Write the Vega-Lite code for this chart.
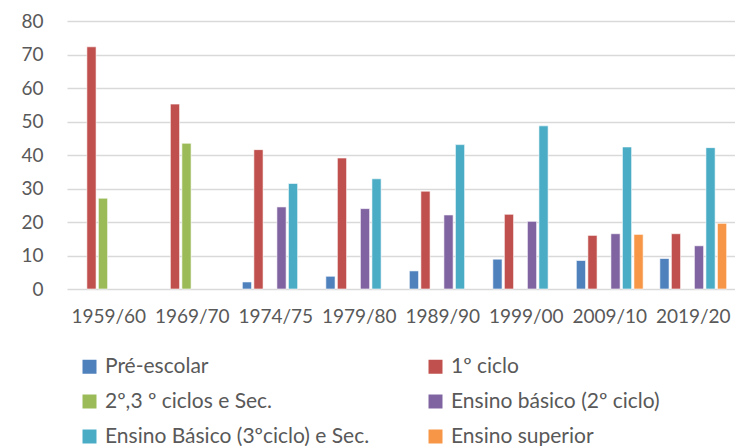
{
  "$schema": "https://vega.github.io/schema/vega-lite/v6.json",
  "width": 668,
  "height": 268,
  "autosize": {"type": "none"},
  "padding": {"left": 67, "top": 21, "right": 0, "bottom": 157},
  "background": "white",
  "data": {
    "values": [
      {"ano": "1959/60", "nivel": "1º ciclo", "valor": 72.3},
      {"ano": "1959/60", "nivel": "2º,3 º ciclos e Sec.", "valor": 27.1},
      {"ano": "1969/70", "nivel": "1º ciclo", "valor": 55.2},
      {"ano": "1969/70", "nivel": "2º,3 º ciclos e Sec.", "valor": 43.5},
      {"ano": "1974/75", "nivel": "Pré-escolar", "valor": 2.1},
      {"ano": "1974/75", "nivel": "1º ciclo", "valor": 41.6},
      {"ano": "1974/75", "nivel": "Ensino básico (2º ciclo)", "valor": 24.5},
      {"ano": "1974/75", "nivel": "Ensino Básico (3ºciclo) e Sec.", "valor": 31.5},
      {"ano": "1979/80", "nivel": "Pré-escolar", "valor": 3.8},
      {"ano": "1979/80", "nivel": "1º ciclo", "valor": 39.1},
      {"ano": "1979/80", "nivel": "Ensino básico (2º ciclo)", "valor": 24.0},
      {"ano": "1979/80", "nivel": "Ensino Básico (3ºciclo) e Sec.", "valor": 32.9},
      {"ano": "1989/90", "nivel": "Pré-escolar", "valor": 5.4},
      {"ano": "1989/90", "nivel": "1º ciclo", "valor": 29.2},
      {"ano": "1989/90", "nivel": "Ensino básico (2º ciclo)", "valor": 22.1},
      {"ano": "1989/90", "nivel": "Ensino Básico (3ºciclo) e Sec.", "valor": 43.1},
      {"ano": "1999/00", "nivel": "Pré-escolar", "valor": 8.9},
      {"ano": "1999/00", "nivel": "1º ciclo", "valor": 22.3},
      {"ano": "1999/00", "nivel": "Ensino básico (2º ciclo)", "valor": 20.2},
      {"ano": "1999/00", "nivel": "Ensino Básico (3ºciclo) e Sec.", "valor": 48.7},
      {"ano": "2009/10", "nivel": "Pré-escolar", "valor": 8.5},
      {"ano": "2009/10", "nivel": "1º ciclo", "valor": 16.0},
      {"ano": "2009/10", "nivel": "Ensino básico (2º ciclo)", "valor": 16.5},
      {"ano": "2009/10", "nivel": "Ensino Básico (3ºciclo) e Sec.", "valor": 42.4},
      {"ano": "2009/10", "nivel": "Ensino superior", "valor": 16.3},
      {"ano": "2019/20", "nivel": "Pré-escolar", "valor": 9.1},
      {"ano": "2019/20", "nivel": "1º ciclo", "valor": 16.5},
      {"ano": "2019/20", "nivel": "Ensino básico (2º ciclo)", "valor": 12.9},
      {"ano": "2019/20", "nivel": "Ensino Básico (3ºciclo) e Sec.", "valor": 42.2},
      {"ano": "2019/20", "nivel": "Ensino superior", "valor": 19.6}
    ]
  },
  "mark": {"type": "bar", "stroke": "white", "strokeWidth": 0.6},
  "encoding": {
    "x": {
      "field": "ano",
      "type": "nominal",
      "sort": null,
      "scale": {"paddingInner": 0.2, "paddingOuter": 0.1},
      "axis": {
        "title": null,
        "labelAngle": 0,
        "labelFont": "Lato",
        "labelFontSize": 19,
        "labelColor": "#595959",
        "labelPadding": 18,
        "ticks": false,
        "domain": false
      }
    },
    "xOffset": {
      "field": "nivel",
      "type": "nominal",
      "scale": {
        "domain": ["Pré-escolar", "1º ciclo", "2º,3 º ciclos e Sec.", "Ensino básico (2º ciclo)", "Ensino Básico (3ºciclo) e Sec.", "Ensino superior"],
        "paddingInner": 0.2,
        "paddingOuter": 0
      }
    },
    "y": {
      "field": "valor",
      "type": "quantitative",
      "scale": {"domain": [0, 80], "nice": false},
      "axis": {
        "title": null,
        "values": [0, 10, 20, 30, 40, 50, 60, 70, 80],
        "labelFont": "Lato",
        "labelFontSize": 19,
        "labelColor": "#595959",
        "labelPadding": 24,
        "ticks": false,
        "domain": false,
        "grid": true,
        "gridColor": "#d9d9d9",
        "gridWidth": 1.3
      }
    },
    "color": {
      "field": "nivel",
      "type": "nominal",
      "scale": {
        "domain": ["Pré-escolar", "1º ciclo", "2º,3 º ciclos e Sec.", "Ensino básico (2º ciclo)", "Ensino Básico (3ºciclo) e Sec.", "Ensino superior"],
        "range": ["#4F81BD", "#C0504D", "#9BBB59", "#8064A2", "#4BACC6", "#F79646"]
      },
      "legend": {
        "title": null,
        "orient": "none",
        "direction": "horizontal",
        "legendX": 12,
        "legendY": 335,
        "columns": 2,
        "columnPadding": 55,
        "rowPadding": 13,
        "symbolType": "square",
        "symbolSize": 196,
        "symbolStrokeWidth": 0,
        "labelFont": "Lato",
        "labelFontSize": 21,
        "labelColor": "#595959",
        "labelOffset": 5,
        "labelLimit": 400
      }
    }
  },
  "config": {"view": {"stroke": null}}
}
